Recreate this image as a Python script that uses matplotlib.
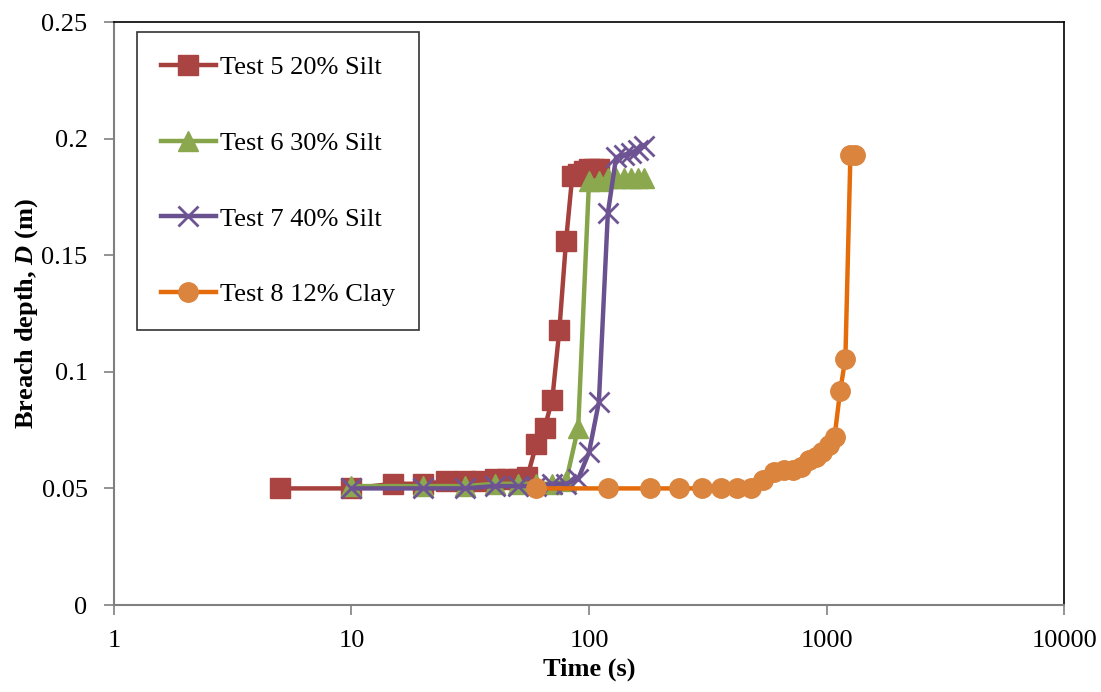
import matplotlib.pyplot as plt
from matplotlib.ticker import FixedLocator, NullLocator

plt.rcParams['font.family'] = ['Liberation Serif', 'DejaVu Serif']
plt.rcParams['mathtext.fontset'] = 'custom'
plt.rcParams['mathtext.rm'] = 'Liberation Serif'
plt.rcParams['mathtext.it'] = 'Liberation Serif:italic'
plt.rcParams['mathtext.bf'] = 'Liberation Serif:bold'
plt.rcParams['mathtext.bfit'] = 'Liberation Serif:italic:bold'

# test 5 - 20% silt
t5 = [5, 10, 15, 20, 25, 30, 35, 40, 45, 50, 55, 60, 65, 70, 75, 80, 85, 90, 95, 100, 105, 110]
d5 = [0.050, 0.050, 0.052, 0.052, 0.053, 0.053, 0.053, 0.054, 0.054, 0.054, 0.055,
      0.069, 0.076, 0.088, 0.118, 0.156, 0.184, 0.185, 0.186, 0.187, 0.187, 0.187]

# test 6 - 30% silt
t6 = [10, 20, 30, 40, 50, 60, 70, 80, 90, 100, 110, 120, 130, 140, 150, 160, 170]
d6 = [0.051, 0.051, 0.051, 0.052, 0.052, 0.052, 0.052, 0.053, 0.076,
      0.182, 0.182, 0.183, 0.183, 0.183, 0.183, 0.183, 0.183]

# test 7 - 40% silt
t7 = [10, 20, 30, 40, 50, 60, 70, 80, 90, 100, 110, 120, 130, 140, 150, 160, 170]
d7 = [0.050, 0.050, 0.050, 0.051, 0.051, 0.051, 0.052, 0.052, 0.054,
      0.0655, 0.087, 0.168, 0.192, 0.193, 0.194, 0.195, 0.197]

# test 8 - 12% clay
t8 = [60, 120, 180, 240, 300, 360, 420, 480, 540, 600, 660, 720, 780, 840,
      900, 960, 1020, 1080, 1140, 1200, 1260, 1320]
d8 = [0.050, 0.050, 0.050, 0.050, 0.050, 0.050, 0.050, 0.050, 0.0535, 0.057,
      0.0578, 0.058, 0.059, 0.062, 0.0635, 0.0655, 0.0685, 0.072, 0.0916, 0.1057,
      0.193, 0.193]

xticks = [1, 10, 100, 1000, 10000]
yticks = [0, 0.05, 0.1, 0.15, 0.2, 0.25]

fig = plt.figure(figsize=(11.01, 6.92), dpi=100)
ax = fig.add_axes([0.1035, 0.1257, 0.863, 0.8425])

ax.plot(t5, d5, color='#A5403C', lw=3.2, marker='s', ms=14, mfc='#A94442', mec='#A94442',
        label='Test 5 20% Silt')
ax.plot(t6, d6, color='#86A44A', lw=3.2, marker='^', ms=14, mfc='#8BA84F', mec='#8BA84F',
        label='Test 6 30% Silt')
ax.plot(t7, d7, color='#6A5190', lw=3.2, marker='x', ms=14, mew=2, mec='#6F5494',
        label='Test 7 40% Silt')
ax.plot(t8, d8, color='#E46C0A', lw=3.2, marker='o', ms=14, mfc='#DA843E', mec='#DA843E',
        label='Test 8 12% Clay')

ax.set_xscale('log')
ax.set_xlim(1, 10000)
ax.set_ylim(0, 0.25)
ax.xaxis.set_major_locator(FixedLocator(xticks))
ax.xaxis.set_minor_locator(NullLocator())
ax.set_xticks(xticks)
ax.set_xticklabels([str(v) for v in xticks])
ax.set_yticks(yticks)
ax.set_yticklabels(['0', '0.05', '0.1', '0.15', '0.2', '0.25'])
ax.tick_params(labelsize=19, direction='out', length=7, color='#808080', width=1.2)
ax.tick_params(axis='y', pad=12)
ax.tick_params(axis='x', pad=11)

for s in ['left', 'bottom']:
    ax.spines[s].set_color('#808080')
    ax.spines[s].set_linewidth(1.5)
for s in ['top', 'right']:
    ax.spines[s].set_color('black')
    ax.spines[s].set_linewidth(1.2)

ax.set_xlabel('Time (s)', fontsize=19, fontweight='bold', labelpad=4)
ax.set_ylabel('Breach depth, $\\mathbfit{D}$ (m)', fontsize=19, fontweight='bold', labelpad=1)

leg = ax.legend(loc='upper left', bbox_to_anchor=(0.024, 0.983), fontsize=19, numpoints=1,
                labelspacing=1.98, handlelength=2.1, handletextpad=0.15, borderpad=0.9,
                fancybox=False, frameon=True, borderaxespad=0)
leg.get_frame().set_edgecolor('black')
leg.get_frame().set_linewidth(1.2)

fig.savefig('out.png', dpi=100)
